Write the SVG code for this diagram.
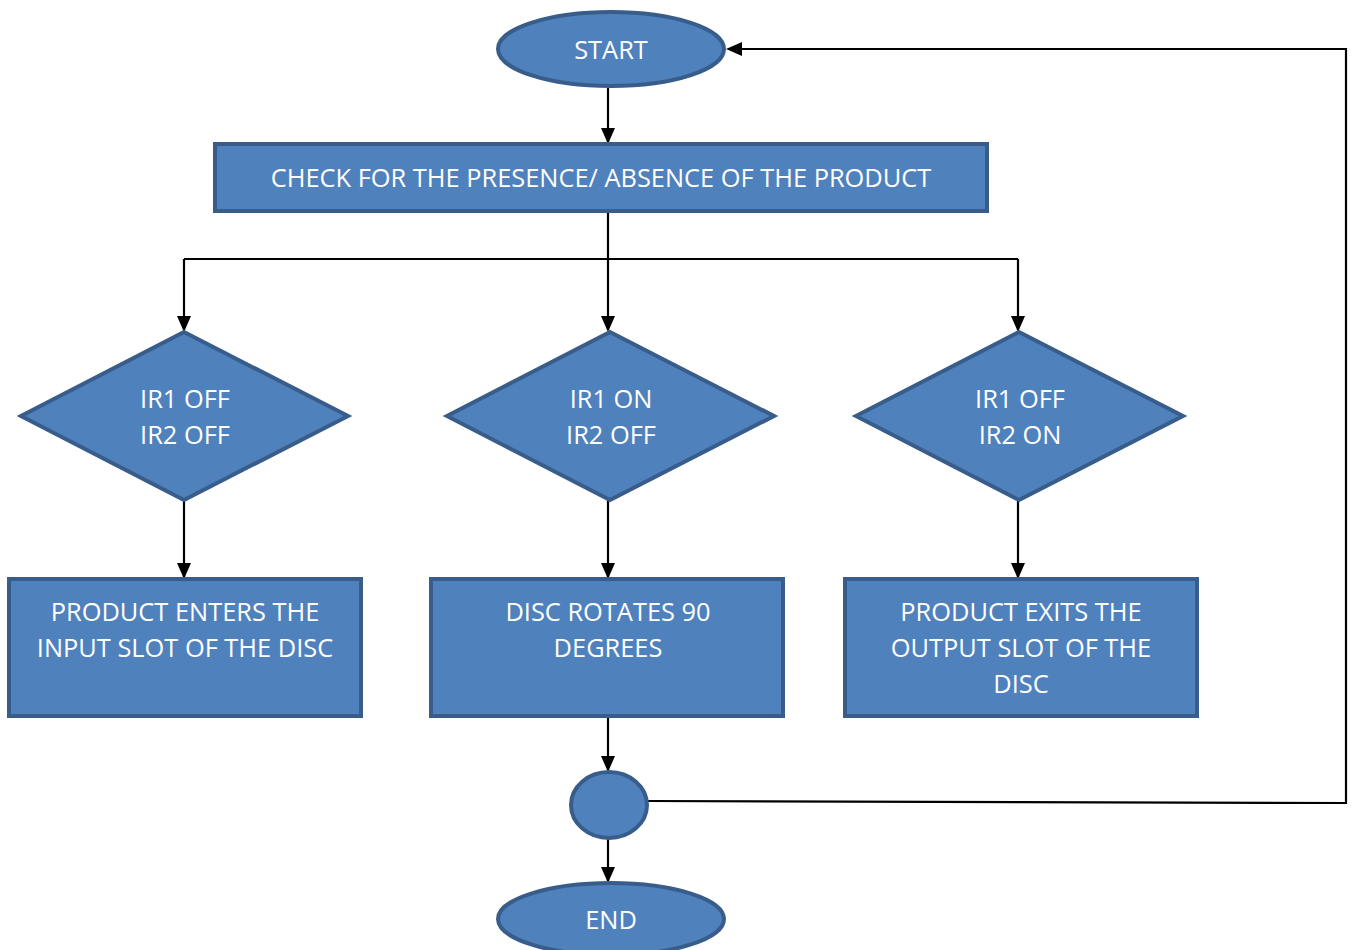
<svg xmlns="http://www.w3.org/2000/svg" width="1352" height="950" viewBox="0 0 1352 950">
<defs>
<marker id="ah" markerWidth="16" markerHeight="14" refX="14" refY="7" orient="auto" markerUnits="userSpaceOnUse" viewBox="0 0 16 14">
<path d="M0,0 L16,7 L0,14 Z" fill="#000"/>
</marker>
<style>
.n{fill:#4f81bd;stroke:#385d8a;stroke-width:4}
.t{font-family:"Open Sans","Liberation Sans",sans-serif;font-size:25.4px;fill:#fff;text-anchor:middle}
.c{fill:none;stroke:#000;stroke-width:2.2}
.a{marker-end:url(#ah)}
</style>
</defs>
<rect width="1352" height="950" fill="#fff"/>
<g id="connectors">
<path class="c a" d="M608,88 V142"/>
<path class="c" d="M608,212 V259 M184,259 H1018"/>
<path class="c a" d="M184,259 V330"/>
<path class="c a" d="M608,259 V330"/>
<path class="c a" d="M1018,259 V330"/>
<path class="c a" d="M184,500 V577"/>
<path class="c a" d="M608,500 V577"/>
<path class="c a" d="M1018,500 V577"/>
<path class="c a" d="M608,717 V770"/>
<path class="c a" d="M608,839 V881"/>
<path class="c a" d="M648,801 L1346,803 V49 H728"/>
</g>
<g id="start"><ellipse class="n" cx="611" cy="49" rx="113" ry="37"/><text class="t" x="611" y="59">START</text></g>
<g id="check"><rect class="n" x="215" y="144" width="772" height="67"/><text class="t" x="601" y="187">CHECK FOR THE PRESENCE/ ABSENCE OF THE PRODUCT</text></g>
<g id="d1"><polygon class="n" points="184,332 348,416 184,500 21,416"/><text class="t" x="185" y="408">IR1 OFF</text><text class="t" x="185" y="444">IR2 OFF</text></g>
<g id="d2"><polygon class="n" points="610,332 774,416 610,500 447,416"/><text class="t" x="611" y="408">IR1 ON</text><text class="t" x="611" y="444">IR2 OFF</text></g>
<g id="d3"><polygon class="n" points="1019,332 1183,416 1019,500 856,416"/><text class="t" x="1020" y="408">IR1 OFF</text><text class="t" x="1020" y="444">IR2 ON</text></g>
<g id="r1"><rect class="n" x="9" y="579" width="352" height="137"/><text class="t" x="185" y="621">PRODUCT ENTERS THE</text><text class="t" x="185" y="657">INPUT SLOT OF THE DISC</text></g>
<g id="r2"><rect class="n" x="431" y="579" width="352" height="137"/><text class="t" x="608" y="621">DISC ROTATES 90</text><text class="t" x="608" y="657">DEGREES</text></g>
<g id="r3"><rect class="n" x="845" y="579" width="352" height="137"/><text class="t" x="1021" y="621">PRODUCT EXITS THE</text><text class="t" x="1021" y="657">OUTPUT SLOT OF THE</text><text class="t" x="1021" y="693">DISC</text></g>
<g id="junction"><ellipse class="n" cx="609" cy="805" rx="38" ry="33"/></g>
<g id="end"><ellipse class="n" cx="611" cy="919" rx="113" ry="36"/><text class="t" x="611" y="929">END</text></g>
</svg>
